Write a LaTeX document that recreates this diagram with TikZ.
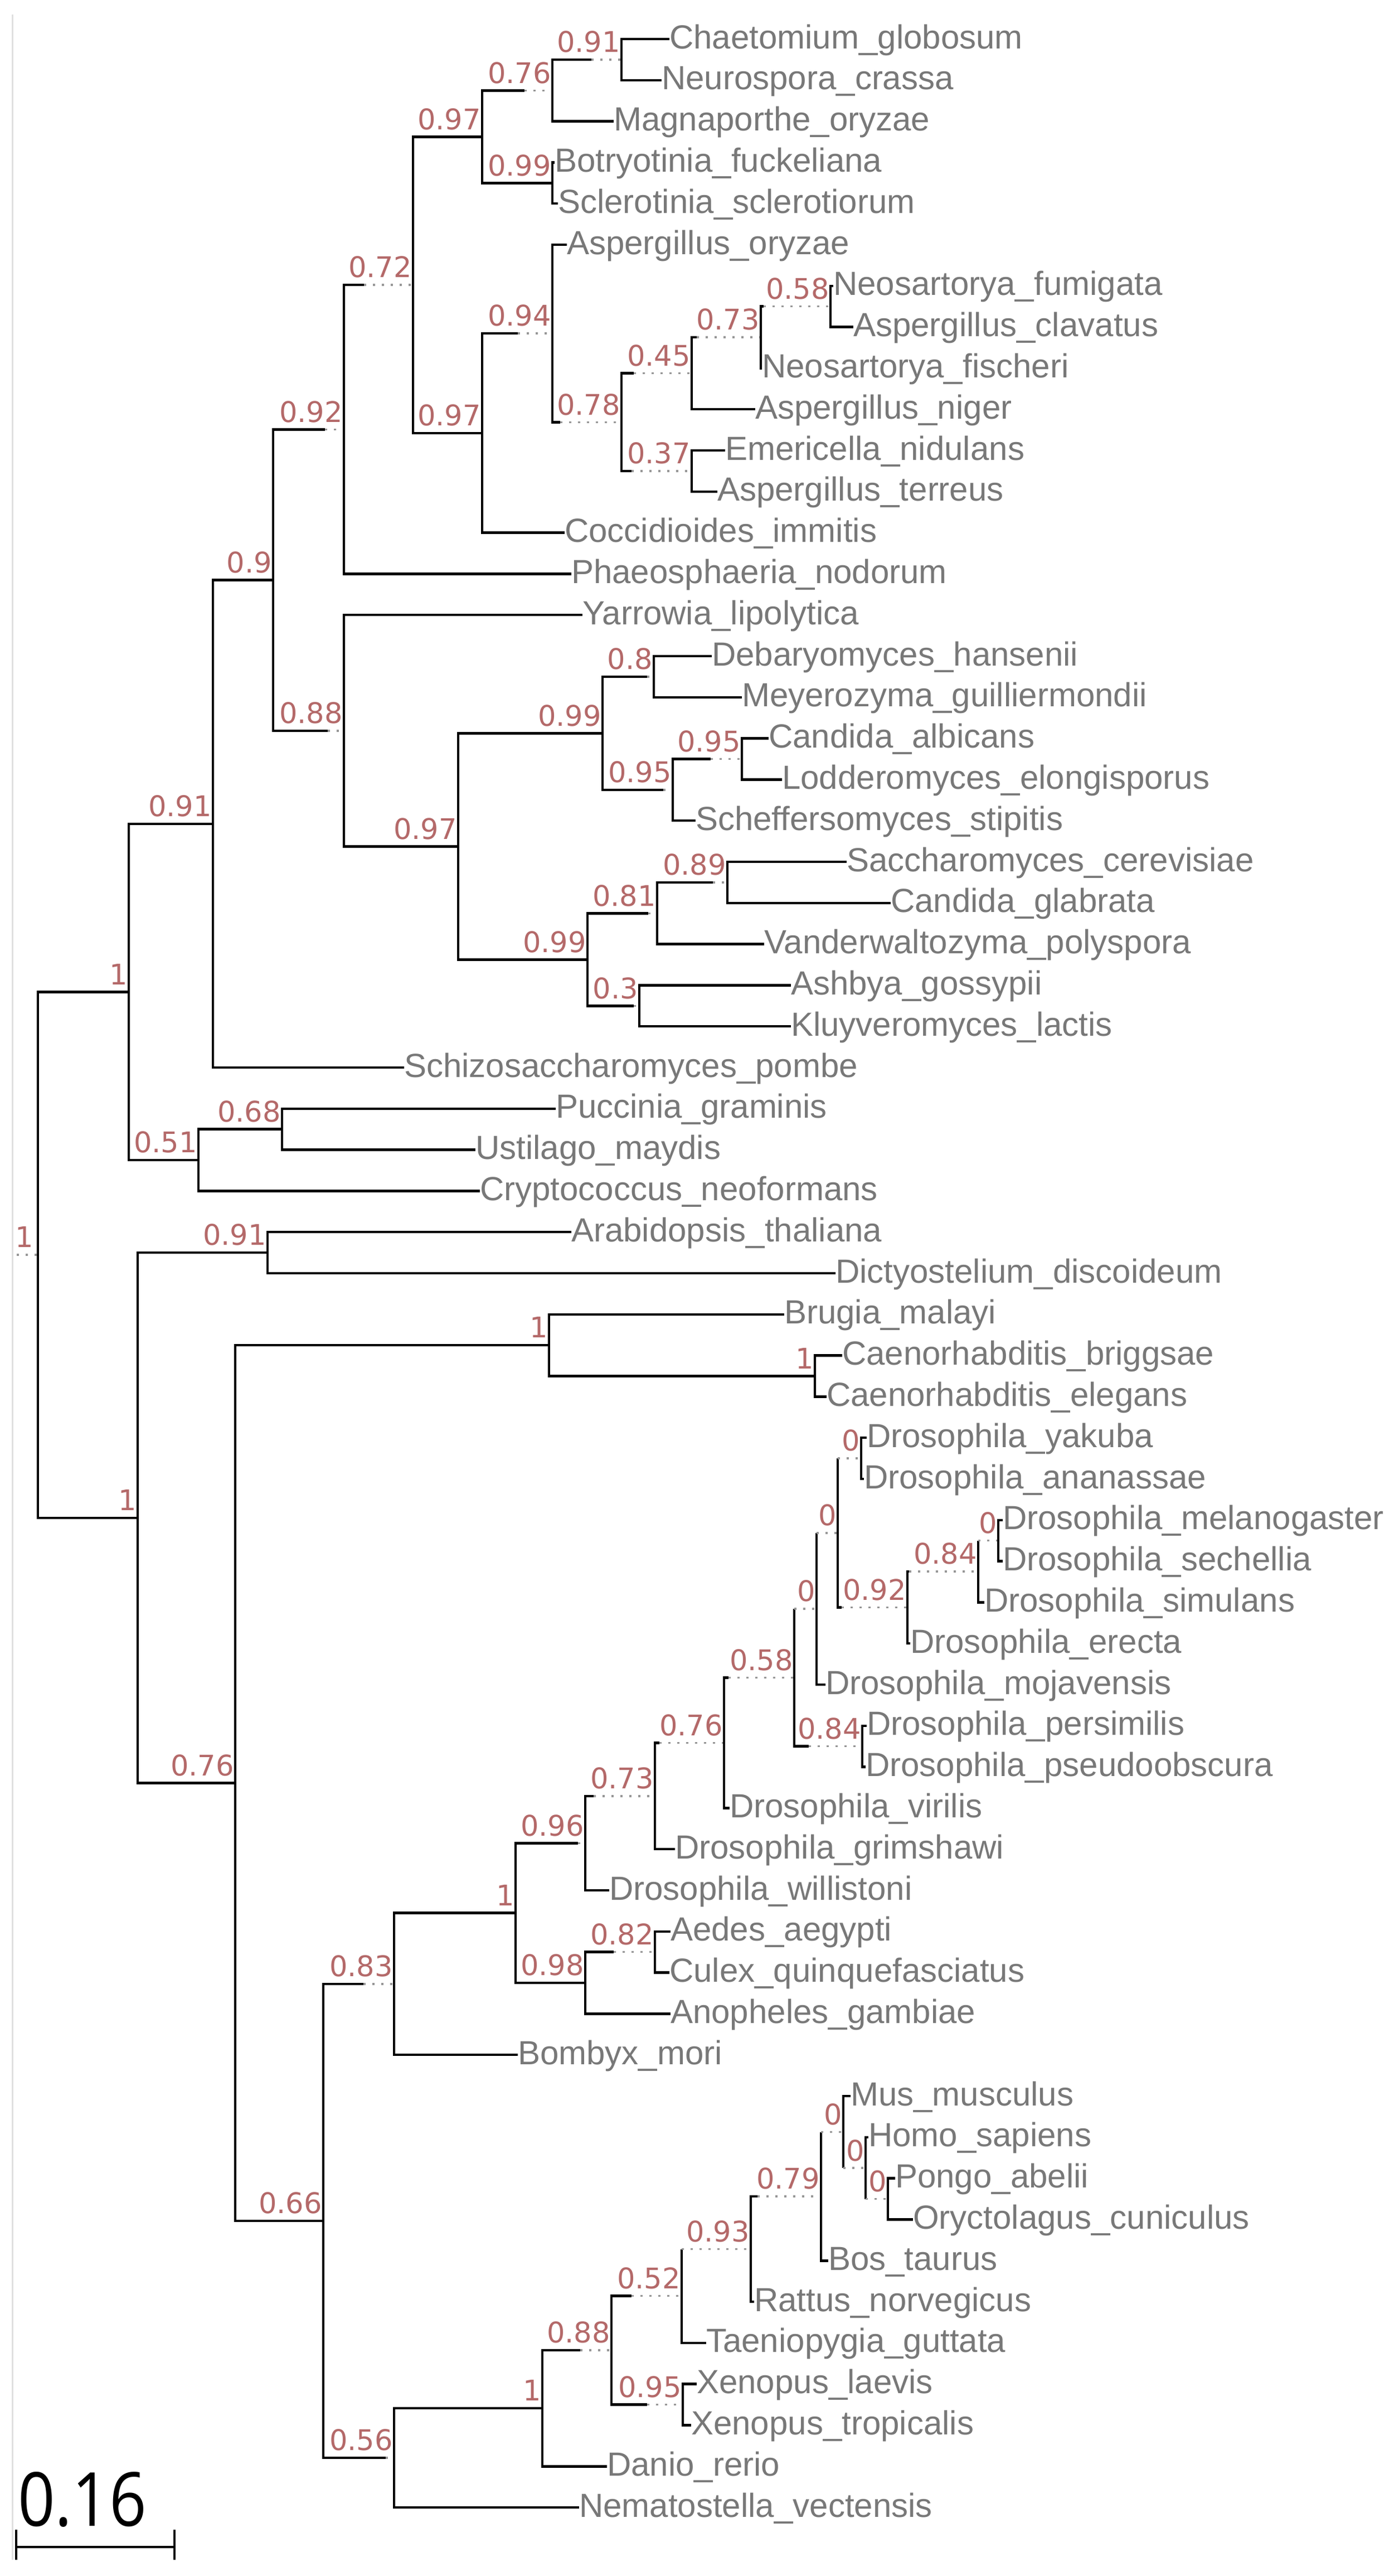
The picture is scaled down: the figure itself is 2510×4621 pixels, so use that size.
\documentclass[tikz,border=0pt]{standalone}
\usepackage{fontspec}
\newfontfamily\leaffont{Liberation Sans}
\newfontfamily\bsfont{DejaVu Sans}
\newfontfamily\barfont[FakeStretch=0.87]{Open Sans}
\usetikzlibrary{calc}
\definecolor{leafgray}{RGB}{120,120,120}
\definecolor{bsred}{RGB}{180,105,105}
\definecolor{dotgray}{RGB}{150,150,150}
\tikzset{
  tree/.style={line width=4.5pt, black},
  dots/.style={line width=3.5pt, dotgray, dash pattern=on 3.5pt off 12.5pt},
  frame/.style={line width=3pt, black!12},
  leaf/.style={anchor=west, inner sep=0pt, text height=34pt, text depth=0pt, text=leafgray,
    font=\leaffont\fontsize{60}{72}\selectfont},
  bs/.style={anchor=south east, inner sep=0pt, text depth=0pt, text=bsred,
    font=\bsfont\fontsize{51}{60}\selectfont},
}
% parent, child, dotted part, support value
\newcommand{\cladebr}[4]{%
  \draw[tree] (#1) |- ($(#2)+(-#3,0)$);
  \draw[dots] ($(#2)+(-#3,0)$) -- (#2);
  \node[bs] (#2-bs) at ($(#2)+(-2,-13)$) {#4};}
\newcommand{\leafbr}[2]{\draw[tree] (#1) |- (#2.west);}

\begin{document}
\begin{tikzpicture}[x=1pt,y=-1pt]
\fill[white] (0,0) rectangle (2510,4621);
\useasboundingbox (0,0) rectangle (2510,4621);
\draw[frame] (22,26) -- (22,4592);

% leaves
\node[leaf] (chaet) at (1201,70) {Chaetomium\_globosum};
\node[leaf] (neuro) at (1187,143.8) {Neurospora\_crassa};
\node[leaf] (magna) at (1101,217.6) {Magnaporthe\_oryzae};
\node[leaf] (botry) at (995,291.4) {Botryotinia\_fuckeliana};
\node[leaf] (sclero) at (1001,365.2) {Sclerotinia\_sclerotiorum};
\node[leaf] (aoryzae) at (1017,439) {Aspergillus\_oryzae};
\node[leaf] (nfumig) at (1495,512.8) {Neosartorya\_fumigata};
\node[leaf] (aclav) at (1531,586.6) {Aspergillus\_clavatus};
\node[leaf] (nfisch) at (1367,660.4) {Neosartorya\_fischeri};
\node[leaf] (aniger) at (1355,734.2) {Aspergillus\_niger};
\node[leaf] (emeric) at (1301,808) {Emericella\_nidulans};
\node[leaf] (aterr) at (1287,881.8) {Aspergillus\_terreus};
\node[leaf] (cocci) at (1013,955.6) {Coccidioides\_immitis};
\node[leaf] (phaeo) at (1025,1029.4) {Phaeosphaeria\_nodorum};
\node[leaf] (yarrow) at (1045,1103.2) {Yarrowia\_lipolytica};
\node[leaf] (debary) at (1277,1177) {Debaryomyces\_hansenii};
\node[leaf] (meyero) at (1331,1250.8) {Meyerozyma\_guilliermondii};
\node[leaf] (calbic) at (1379,1324.6) {Candida\_albicans};
\node[leaf] (lodder) at (1403,1398.4) {Lodderomyces\_elongisporus};
\node[leaf] (scheff) at (1248,1472.2) {Scheffersomyces\_stipitis};
\node[leaf] (scerev) at (1519,1546) {Saccharomyces\_cerevisiae};
\node[leaf] (cglab) at (1598,1619.8) {Candida\_glabrata};
\node[leaf] (vander) at (1371,1693.6) {Vanderwaltozyma\_polyspora};
\node[leaf] (ashbya) at (1419,1767.4) {Ashbya\_gossypii};
\node[leaf] (kluyv) at (1419,1841.2) {Kluyveromyces\_lactis};
\node[leaf] (schizo) at (725,1915) {Schizosaccharomyces\_pombe};
\node[leaf] (puccin) at (997,1988.8) {Puccinia\_graminis};
\node[leaf] (ustil) at (853,2062.6) {Ustilago\_maydis};
\node[leaf] (crypto) at (861,2136.4) {Cryptococcus\_neoformans};
\node[leaf] (arabid) at (1025,2210.2) {Arabidopsis\_thaliana};
\node[leaf] (dictyo) at (1499,2284) {Dictyostelium\_discoideum};
\node[leaf] (brugia) at (1407,2357.8) {Brugia\_malayi};
\node[leaf] (cbrigg) at (1511,2431.6) {Caenorhabditis\_briggsae};
\node[leaf] (celeg) at (1483,2505.4) {Caenorhabditis\_elegans};
\node[leaf] (dyak) at (1555,2579.2) {Drosophila\_yakuba};
\node[leaf] (danan) at (1550,2653) {Drosophila\_ananassae};
\node[leaf] (dmel) at (1799,2726.8) {Drosophila\_melanogaster};
\node[leaf] (dsech) at (1799,2800.6) {Drosophila\_sechellia};
\node[leaf] (dsim) at (1766,2874.4) {Drosophila\_simulans};
\node[leaf] (derec) at (1633,2948.2) {Drosophila\_erecta};
\node[leaf] (dmoj) at (1481,3022) {Drosophila\_mojavensis};
\node[leaf] (dpers) at (1555,3095.8) {Drosophila\_persimilis};
\node[leaf] (dpseu) at (1553,3169.6) {Drosophila\_pseudoobscura};
\node[leaf] (dvir) at (1309,3243.4) {Drosophila\_virilis};
\node[leaf] (dgrim) at (1211,3317.2) {Drosophila\_grimshawi};
\node[leaf] (dwill) at (1093,3391) {Drosophila\_willistoni};
\node[leaf] (aedes) at (1203,3464.8) {Aedes\_aegypti};
\node[leaf] (culex) at (1201,3538.6) {Culex\_quinquefasciatus};
\node[leaf] (anoph) at (1203,3612.4) {Anopheles\_gambiae};
\node[leaf] (bombyx) at (929,3686.2) {Bombyx\_mori};
\node[leaf] (mus) at (1526,3760) {Mus\_musculus};
\node[leaf] (homo) at (1558,3833.8) {Homo\_sapiens};
\node[leaf] (pongo) at (1606,3907.6) {Pongo\_abelii};
\node[leaf] (oryct) at (1638,3981.4) {Oryctolagus\_cuniculus};
\node[leaf] (bos) at (1486,4055.2) {Bos\_taurus};
\node[leaf] (rattus) at (1353,4129) {Rattus\_norvegicus};
\node[leaf] (taenio) at (1267,4202.8) {Taeniopygia\_guttata};
\node[leaf] (xlaev) at (1250,4276.6) {Xenopus\_laevis};
\node[leaf] (xtrop) at (1240,4350.4) {Xenopus\_tropicalis};
\node[leaf] (danio) at (1089,4424.2) {Danio\_rerio};
\node[leaf] (nemat) at (1039,4498) {Nematostella\_vectensis};

% inner nodes
\coordinate (stub) at (30,2251.1);
\coordinate (root) at (68,2251.1);
\coordinate (nab) at (231,1779.4);
\coordinate (nac) at (247,2722.85);
\coordinate (ny) at (382,1477.75);
\coordinate (nz) at (356,2081.05);
\coordinate (naa) at (506,2025.7);
\coordinate (nn) at (490,1040.5);
\coordinate (nm) at (617,770.25);
\coordinate (no) at (617,1310.8);
\coordinate (ne) at (741,511.1);
\coordinate (nd) at (865,245.3);
\coordinate (nf) at (865,776.85);
\coordinate (nb) at (991,162.25);
\coordinate (nc) at (991,328.3);
\coordinate (na) at (1115,106.9);
\coordinate (ng) at (991,598.1);
\coordinate (nh) at (1115,757.25);
\coordinate (ni) at (1241,669.6);
\coordinate (nj) at (1241,844.9);
\coordinate (nk) at (1365,605.05);
\coordinate (nl) at (1490,549.7);
\coordinate (np) at (822,1518.35);
\coordinate (nq) at (1081,1315.4);
\coordinate (nr) at (1054,1721.3);
\coordinate (ns) at (1173,1213.9);
\coordinate (nt) at (1207,1416.85);
\coordinate (nu) at (1331,1361.5);
\coordinate (nv) at (1179,1638.25);
\coordinate (nx) at (1305,1582.9);
\coordinate (nw) at (1147,1804.3);
\coordinate (nad) at (480,2247.1);
\coordinate (nae) at (422,3198.6);
\coordinate (naf) at (985,2413.15);
\coordinate (nah) at (1462,2468.5);
\coordinate (nag) at (580,3984);
\coordinate (nai) at (707,3558.95);
\coordinate (nak) at (925,3431.7);
\coordinate (nal) at (1050,3306.4);
\coordinate (nan) at (1175,3221.8);
\coordinate (nao) at (1299,3126.35);
\coordinate (nap) at (1425,3009.3);
\coordinate (naq) at (1465,2885.9);
\coordinate (nat) at (1503,2749.85);
\coordinate (nas) at (1545,2616.1);
\coordinate (nau) at (1628,2883.6);
\coordinate (nax) at (1755,2819.05);
\coordinate (naw) at (1791,2763.7);
\coordinate (nav) at (1547,3132.7);
\coordinate (nam) at (1050,3557.05);
\coordinate (nay) at (1175,3501.7);
\coordinate (naz) at (707,4409.05);
\coordinate (nba) at (973,4320.1);
\coordinate (nbb) at (1097,4216.05);
\coordinate (nbc) at (1223,4118.6);
\coordinate (nbd) at (1225,4313.5);
\coordinate (nbe) at (1347,4034.45);
\coordinate (nbf) at (1473,3939.9);
\coordinate (nbg) at (1513,3824.6);
\coordinate (nbh) at (1553,3889.15);
\coordinate (nbi) at (1593,3944.5);

% branches
\draw[dots] (stub) -- (root);
\node[bs] (root-bs) at ($(root)+(-8,-13)$) {1};
\cladebr{root}{nab}{0}{1}
\cladebr{root}{nac}{0}{1}
\cladebr{nab}{ny}{0}{0.91}
\cladebr{nab}{nz}{0}{0.51}
\cladebr{ny}{nn}{0}{0.9}
\leafbr{ny}{schizo}
\cladebr{nn}{nm}{34}{0.92}
\cladebr{nn}{no}{29}{0.88}
\cladebr{nm}{ne}{88}{0.72}
\leafbr{nm}{phaeo}
\cladebr{ne}{nd}{0}{0.97}
\cladebr{ne}{nf}{0}{0.97}
\cladebr{nd}{nb}{50}{0.76}
\cladebr{nd}{nc}{0}{0.99}
\cladebr{nb}{na}{54}{0.91}
\leafbr{nb}{magna}
\leafbr{na}{chaet}
\leafbr{na}{neuro}
\leafbr{nc}{botry}
\leafbr{nc}{sclero}
\cladebr{nf}{ng}{62}{0.94}
\leafbr{nf}{cocci}
\leafbr{ng}{aoryzae}
\cladebr{ng}{nh}{110}{0.78}
\cladebr{nh}{ni}{104}{0.45}
\cladebr{nh}{nj}{108}{0.37}
\cladebr{ni}{nk}{115}{0.73}
\leafbr{ni}{aniger}
\cladebr{nk}{nl}{120}{0.58}
\leafbr{nk}{nfisch}
\leafbr{nl}{nfumig}
\leafbr{nl}{aclav}
\leafbr{nj}{emeric}
\leafbr{nj}{aterr}
\leafbr{no}{yarrow}
\cladebr{no}{np}{0}{0.97}
\cladebr{np}{nq}{0}{0.99}
\cladebr{np}{nr}{0}{0.99}
\cladebr{nq}{ns}{12}{0.8}
\cladebr{nq}{nt}{17}{0.95}
\leafbr{ns}{debary}
\leafbr{ns}{meyero}
\cladebr{nt}{nu}{56}{0.95}
\leafbr{nt}{scheff}
\leafbr{nu}{calbic}
\leafbr{nu}{lodder}
\cladebr{nr}{nv}{16}{0.81}
\cladebr{nr}{nw}{10}{0.3}
\cladebr{nv}{nx}{26}{0.89}
\leafbr{nv}{vander}
\leafbr{nx}{scerev}
\leafbr{nx}{cglab}
\leafbr{nw}{ashbya}
\leafbr{nw}{kluyv}
\cladebr{nz}{naa}{0}{0.68}
\leafbr{nz}{crypto}
\leafbr{naa}{puccin}
\leafbr{naa}{ustil}
\cladebr{nac}{nad}{0}{0.91}
\cladebr{nac}{nae}{0}{0.76}
\leafbr{nad}{arabid}
\leafbr{nad}{dictyo}
\cladebr{nae}{naf}{0}{1}
\cladebr{nae}{nag}{0}{0.66}
\leafbr{naf}{brugia}
\cladebr{naf}{nah}{0}{1}
\leafbr{nah}{cbrigg}
\leafbr{nah}{celeg}
\cladebr{nag}{nai}{55}{0.83}
\cladebr{nag}{naz}{15}{0.56}
\cladebr{nai}{nak}{0}{1}
\leafbr{nai}{bombyx}
\cladebr{nak}{nal}{13}{0.96}
\cladebr{nak}{nam}{0}{0.98}
\cladebr{nal}{nan}{110}{0.73}
\leafbr{nal}{dwill}
\cladebr{nan}{nao}{116}{0.76}
\leafbr{nan}{dgrim}
\cladebr{nao}{nap}{118}{0.58}
\leafbr{nao}{dvir}
\cladebr{nap}{naq}{40}{0}
\cladebr{nap}{nav}{96}{0.84}
\cladebr{naq}{nat}{38}{0}
\leafbr{naq}{dmoj}
\cladebr{nat}{nas}{42}{0}
\cladebr{nat}{nau}{118}{0.92}
\leafbr{nas}{dyak}
\leafbr{nas}{danan}
\cladebr{nau}{nax}{124}{0.84}
\leafbr{nau}{derec}
\cladebr{nax}{naw}{36}{0}
\leafbr{nax}{dsim}
\leafbr{naw}{dmel}
\leafbr{naw}{dsech}
\leafbr{nav}{dpers}
\leafbr{nav}{dpseu}
\cladebr{nam}{nay}{74}{0.82}
\leafbr{nam}{anoph}
\leafbr{nay}{aedes}
\leafbr{nay}{culex}
\cladebr{naz}{nba}{0}{1}
\leafbr{naz}{nemat}
\cladebr{nba}{nbb}{56}{0.88}
\leafbr{nba}{danio}
\cladebr{nbb}{nbc}{90}{0.52}
\cladebr{nbb}{nbd}{64}{0.95}
\leafbr{nbd}{xlaev}
\leafbr{nbd}{xtrop}
\cladebr{nbc}{nbe}{124}{0.93}
\leafbr{nbc}{taenio}
\cladebr{nbe}{nbf}{114}{0.79}
\leafbr{nbe}{rattus}
\cladebr{nbf}{nbg}{40}{0}
\leafbr{nbf}{bos}
\leafbr{nbg}{mus}
\cladebr{nbg}{nbh}{40}{0}
\leafbr{nbh}{homo}
\cladebr{nbh}{nbi}{40}{0}
\leafbr{nbi}{pongo}
\leafbr{nbi}{oryct}

% scale bar
\node[anchor=base west, inner sep=0pt, font=\barfont\fontsize{134}{140}\selectfont] (scale) at (32,4531) {0.16};
\draw[tree] (29,4569) -- (313,4569);
\draw[tree] (29,4538) -- (29,4592);
\draw[tree] (313,4538) -- (313,4592);
\end{tikzpicture}
\end{document}
